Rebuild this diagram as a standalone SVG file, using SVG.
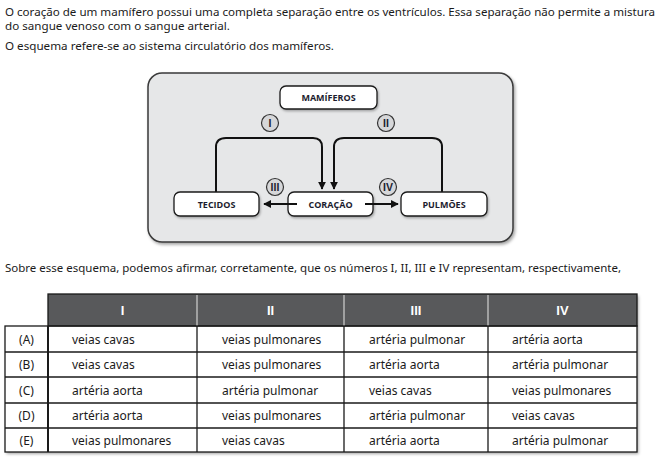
<svg xmlns="http://www.w3.org/2000/svg" width="660" height="468" viewBox="0 0 660 468">
<style>
.p{font-family:"Noto Sans","Open Sans",sans-serif;font-size:11.5px;fill:#1a1a1a}
.nl{font-family:"Open Sans","Noto Sans",sans-serif;font-size:9px;font-weight:bold;fill:#1c1c2e;text-anchor:middle}
.node{fill:#fff;stroke:#1a1a1a;stroke-width:1.3}
.circ{fill:#d6d7d9;stroke:#333;stroke-width:1.2}
.rn{font-family:"Liberation Sans",Arial,sans-serif;font-size:10.5px;font-weight:bold;fill:#1c1c2e;text-anchor:middle}
.con{fill:none;stroke:#111;stroke-width:2}
.th{font-family:"Liberation Sans",Arial,sans-serif;font-size:13px;font-weight:bold;fill:#fff;text-anchor:middle}
.td{font-family:"Noto Sans","Open Sans",sans-serif;font-size:12px;fill:#1a1a1a}
.tl{font-family:"Noto Sans","Open Sans",sans-serif;font-size:12px;fill:#1a1a1a;text-anchor:middle}
.grid{stroke:#1a1a1a;stroke-width:1.3;fill:none}
</style>
<defs>
<marker id="ah" viewBox="0 0 10 10" refX="9" refY="5" markerWidth="4" markerHeight="4" orient="auto" markerUnits="strokeWidth">
<path d="M0,0 L10,5 L0,10 z" fill="#111"/>
</marker>
<filter id="sh" x="-5%" y="-5%" width="110%" height="115%">
<feDropShadow dx="1.5" dy="2" stdDeviation="1.5" flood-color="#000" flood-opacity="0.35"/>
</filter>
<filter id="sh2" x="-10%" y="-20%" width="120%" height="150%">
<feDropShadow dx="1" dy="1.5" stdDeviation="1" flood-color="#000" flood-opacity="0.3"/>
</filter>
</defs>
<rect width="660" height="468" fill="#fff"/>
<text class="p" x="5" y="16" textLength="650" lengthAdjust="spacingAndGlyphs">O coração de um mamífero possui uma completa separação entre os ventrículos. Essa separação não permite a mistura</text>
<text class="p" x="5" y="30" textLength="225" lengthAdjust="spacingAndGlyphs">do sangue venoso com o sangue arterial.</text>
<text class="p" x="5" y="50" textLength="329" lengthAdjust="spacingAndGlyphs">O esquema refere-se ao sistema circulatório dos mamíferos.</text>

<rect x="148" y="73" width="365" height="169" rx="14" fill="#e6e7e8" stroke="#3a3a3a" stroke-width="1.5" filter="url(#sh)"/>

<g id="connectors">
<path class="con" d="M216,192 V147 Q216,138 226,138 H313 Q322,138 322,147 V189" marker-end="url(#ah)"/>
<path class="con" d="M442,192 V147 Q442,138 432,138 H344 Q334,138 334,147 V189" marker-end="url(#ah)"/>
</g>

<g id="mamiferos"><rect class="node" x="280" y="86" width="97" height="23" rx="6" filter="url(#sh2)"/><text class="nl" x="328.5" y="101">MAMÍFEROS</text></g>
<g id="tecidos"><rect class="node" x="174" y="192" width="85" height="24" rx="6" filter="url(#sh2)"/><text class="nl" x="216.5" y="207.5">TECIDOS</text></g>
<g id="coracao"><rect class="node" x="288" y="192" width="85" height="24" rx="6" filter="url(#sh2)"/><text class="nl" x="330.5" y="207.5">CORAÇÃO</text></g>
<g id="pulmoes"><rect class="node" x="401" y="192" width="86" height="24" rx="6" filter="url(#sh2)"/><text class="nl" x="444" y="207.5">PULMÕES</text></g>

<g id="connectors2">
<path class="con" d="M297,204 H264" marker-end="url(#ah)"/>
<path class="con" d="M365,204 H398" marker-end="url(#ah)"/>
</g>

<g id="label-I"><circle class="circ" cx="270" cy="123" r="8.5"/><text class="rn" x="270" y="127">I</text></g>
<g id="label-II"><circle class="circ" cx="386" cy="123" r="8.5"/><text class="rn" x="386" y="127">II</text></g>
<g id="label-III"><circle class="circ" cx="275" cy="187" r="8.5"/><text class="rn" x="275" y="191">III</text></g>
<g id="label-IV"><circle class="circ" cx="388" cy="187" r="8.5"/><text class="rn" x="388" y="191">IV</text></g>

<text class="p" x="5" y="272" textLength="616" lengthAdjust="spacingAndGlyphs">Sobre esse esquema, podemos afirmar, corretamente, que os números I, II, III e IV representam, respectivamente,</text>

<g id="table">
<g filter="url(#sh)">
<rect x="48" y="294" width="589" height="158" fill="#fff"/>
<rect x="5" y="326" width="43" height="126" fill="#fff"/>
</g>
<rect x="48" y="294" width="589" height="32" fill="#58595b" stroke="#1a1a1a" stroke-width="1.3"/>
<g stroke="#c8c8c8" stroke-width="1.3">
<line x1="197" y1="295" x2="197" y2="326"/>
<line x1="344" y1="295" x2="344" y2="326"/>
<line x1="488" y1="295" x2="488" y2="326"/>
</g>
<text class="th" x="122.5" y="315">I</text>
<text class="th" x="270.5" y="315">II</text>
<text class="th" x="416" y="315">III</text>
<text class="th" x="562.5" y="315">IV</text>
<g class="grid">
<rect x="5" y="326" width="632" height="126"/>
<line x1="48" y1="326" x2="48" y2="452" stroke-width="2"/>
<line x1="197" y1="326" x2="197" y2="452"/>
<line x1="344" y1="326" x2="344" y2="452"/>
<line x1="488" y1="326" x2="488" y2="452"/>
<line x1="5" y1="352" x2="637" y2="352"/>
<line x1="5" y1="377" x2="637" y2="377"/>
<line x1="5" y1="403" x2="637" y2="403"/>
<line x1="5" y1="428" x2="637" y2="428"/>
</g>
<g>
<text class="tl" x="26.5" y="344">(A)</text>
<text class="td" x="72" y="344">veias cavas</text>
<text class="td" x="222" y="344">veias pulmonares</text>
<text class="td" x="369" y="344">artéria pulmonar</text>
<text class="td" x="512" y="344">artéria aorta</text>
</g>
<g>
<text class="tl" x="26.5" y="369">(B)</text>
<text class="td" x="72" y="369">veias cavas</text>
<text class="td" x="222" y="369">veias pulmonares</text>
<text class="td" x="369" y="369">artéria aorta</text>
<text class="td" x="512" y="369">artéria pulmonar</text>
</g>
<g>
<text class="tl" x="26.5" y="395">(C)</text>
<text class="td" x="72" y="395">artéria aorta</text>
<text class="td" x="222" y="395">artéria pulmonar</text>
<text class="td" x="369" y="395">veias cavas</text>
<text class="td" x="512" y="395">veias pulmonares</text>
</g>
<g>
<text class="tl" x="26.5" y="420">(D)</text>
<text class="td" x="72" y="420">artéria aorta</text>
<text class="td" x="222" y="420">veias pulmonares</text>
<text class="td" x="369" y="420">artéria pulmonar</text>
<text class="td" x="512" y="420">veias cavas</text>
</g>
<g>
<text class="tl" x="26.5" y="445">(E)</text>
<text class="td" x="72" y="445">veias pulmonares</text>
<text class="td" x="222" y="445">veias cavas</text>
<text class="td" x="369" y="445">artéria aorta</text>
<text class="td" x="512" y="445">artéria pulmonar</text>
</g>
</g>
</svg>
